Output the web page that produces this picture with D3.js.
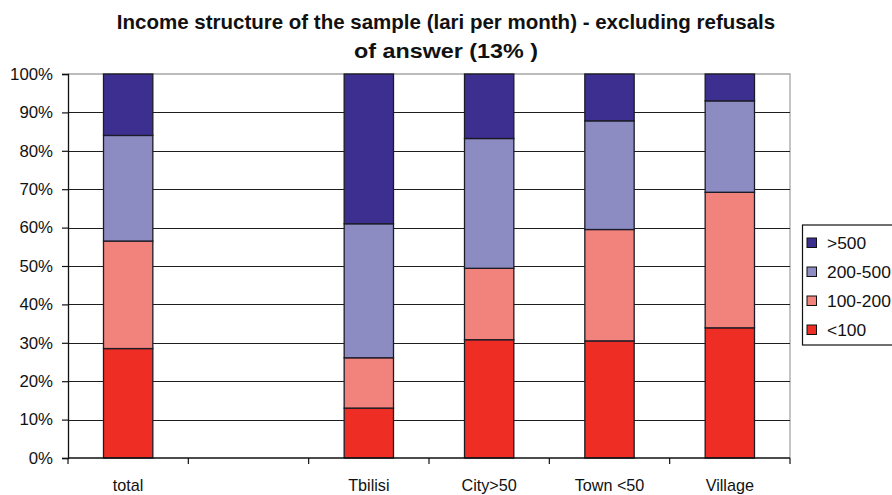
<!DOCTYPE html>
<html>
<head>
<meta charset="utf-8">
<script src="https://cdn.jsdelivr.net/npm/d3@7/dist/d3.min.js"></script>
<style>
  html, body { margin: 0; padding: 0; background: #fff; }
  svg { display: block; font-family: "Liberation Sans", Arial, sans-serif; }
</style>
</head>
<body>
<svg id="chart" width="892" height="495"></svg>
<script>
// Income groups per settlement type, share of respondents (%)
const categories = ["total", "", "Tbilisi", "City>50", "Town <50", "Village"];
const seriesNames = ["<100", "100-200", "200-500", ">500"];
const under100   = [28.5, null, 13.0, 30.8, 30.5, 33.9];
const from100to200 = [28.0, null, 13.1, 18.6, 29.0, 35.3];
const from200to500 = [27.5, null, 34.9, 33.8, 28.3, 23.8];
const over500    = [16.0, null, 39.0, 16.8, 12.2, 7.0];
const yTicks = [0, 10, 20, 30, 40, 50, 60, 70, 80, 90, 100];
const titleLines = ["Income structure of the sample (lari per month) - excluding refusals", "of answer (13% )"];

const colors = {"<100": "#ee2e24", "100-200": "#f2827c", "200-500": "#8c8cc3", ">500": "#3c2f8f"};

const rows = categories.map((c, i) => ({
  cat: c,
  "<100": under100[i] || 0,
  "100-200": from100to200[i] || 0,
  "200-500": from200to500[i] || 0,
  ">500": over500[i] || 0,
  empty: under100[i] == null
}));

const svg = d3.select("#chart");
const margin = {left: 68, right: 102, top: 74, bottom: 37};
const W = 892, H = 495;

const x = d3.scaleBand().domain(d3.range(categories.length))
  .range([margin.left, W - margin.right]).paddingInner(0.59).paddingOuter(0.295);
const y = d3.scaleLinear().domain([0, 100]).range([H - margin.bottom, margin.top]);

// Title (two lines)
svg.append("text").attr("x", 446).attr("y", 29).attr("text-anchor", "middle")
  .attr("font-size", 20.5).attr("font-weight", "bold").attr("fill", "#111")
  .text(titleLines[0]);
svg.append("text").attr("x", 446).attr("y", 58).attr("text-anchor", "middle")
  .attr("font-size", 20.5).attr("font-weight", "bold").attr("fill", "#111")
  .attr("textLength", 184).attr("lengthAdjust", "spacingAndGlyphs")
  .text(titleLines[1]);

// Plot frame (top and right, light grey)
const x0 = margin.left, x1 = W - margin.right;
svg.append("path")
  .attr("d", `M${x0},${y(100)}H${x1}V${y(0)}`)
  .attr("fill", "none").attr("stroke", "#a6a6a6").attr("stroke-width", 1.3);

// Horizontal gridlines
svg.append("g").selectAll("line").data(yTicks.filter(t => t > 0 && t < 100)).join("line")
  .attr("x1", x0).attr("x2", x1)
  .attr("y1", d => Math.round(y(d)) + 0.5).attr("y2", d => Math.round(y(d)) + 0.5)
  .attr("stroke", "#1e1e1e").attr("stroke-width", 1.2);

// Stacked bars
const stack = d3.stack().keys(seriesNames);
const layers = stack(rows);
svg.append("g").selectAll("g").data(layers).join("g")
  .attr("fill", d => colors[d.key])
  .selectAll("rect").data(d => d.filter(p => !p.data.empty)).join("rect")
  .attr("x", d => x(rows.indexOf(d.data)))
  .attr("width", x.bandwidth())
  .attr("y", d => y(d[1]))
  .attr("height", d => y(d[0]) - y(d[1]))
  .attr("stroke", "#1b1b26").attr("stroke-width", 1.3);

// Y axis
const yAxis = d3.axisLeft(y).tickValues(yTicks).tickFormat(d => d + "%").tickSize(6).tickPadding(9);
const gy = svg.append("g").attr("transform", `translate(${x0},0)`).call(yAxis);
gy.select(".domain").attr("stroke", "#111").attr("stroke-width", 1.3);
gy.selectAll(".tick line").attr("stroke", "#111").attr("stroke-width", 1.2);
gy.selectAll("text").attr("font-size", 16.8).attr("fill", "#111")
  .attr("font-family", "Liberation Sans, Arial, sans-serif");

// X axis: baseline, boundary ticks and category labels
const gx = svg.append("g");
gx.append("line").attr("x1", x0).attr("x2", x1).attr("y1", y(0)).attr("y2", y(0))
  .attr("stroke", "#111").attr("stroke-width", 1.3);
const bounds = d3.range(categories.length + 1).map(i => x0 + i * (x1 - x0) / categories.length);
gx.selectAll(".bt").data(bounds).join("line").attr("class", "bt")
  .attr("x1", d => d).attr("x2", d => d).attr("y1", y(0)).attr("y2", y(0) + 6)
  .attr("stroke", "#111").attr("stroke-width", 1.2);
gx.selectAll(".cl").data(categories).join("text").attr("class", "cl")
  .attr("x", (d, i) => x(i) + x.bandwidth() / 2).attr("y", 491)
  .attr("text-anchor", "middle").attr("font-size", 16.2).attr("fill", "#111")
  .text(d => d);

// Legend
const lg = svg.append("g");
lg.append("rect").attr("x", 802.5).attr("y", 225).attr("width", 100).attr("height", 120)
  .attr("fill", "#fff").attr("stroke", "#111").attr("stroke-width", 1.2);
const legendOrder = seriesNames.slice().reverse();
const li = lg.selectAll("g").data(legendOrder).join("g")
  .attr("transform", (d, i) => `translate(807,${242.5 + i * 29})`);
li.append("rect").attr("x", 0).attr("y", -4.5).attr("width", 9.5).attr("height", 9.5)
  .attr("fill", d => colors[d]).attr("stroke", "#111").attr("stroke-width", 1);
li.append("text").attr("x", 20).attr("y", 6).attr("font-size", 17.4).attr("fill", "#111")
  .text(d => d);
</script>
</body>
</html>
